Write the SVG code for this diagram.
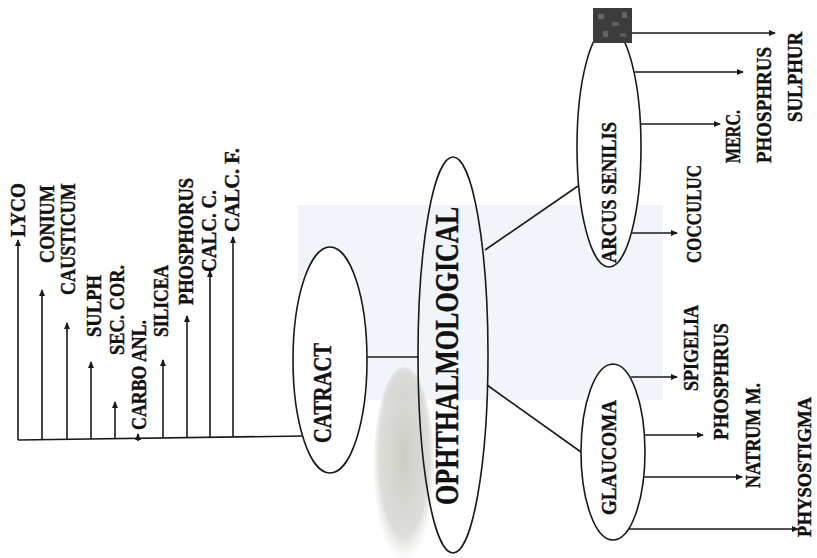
<svg xmlns="http://www.w3.org/2000/svg" width="817" height="558" viewBox="0 0 817 558">
  <style>
    .ln { stroke: #1a1a1a; stroke-width: 1.6; fill: none; }
    .arr { marker-end: url(#ah); }
    .node { fill: #ffffff; stroke: #1a1a1a; stroke-width: 1.6; }
    .lbl { font-family: "Liberation Serif", "Times New Roman", serif; font-weight: bold; font-size: 20px; fill: #111; stroke: #111; stroke-width: 0.4; }
  </style>
  <defs>
    <marker id="ah" markerWidth="7" markerHeight="6" refX="6" refY="3" orient="auto" markerUnits="userSpaceOnUse">
      <path d="M0,0 L7,3 L0,6 z" fill="#1a1a1a"/>
    </marker>
    <radialGradient id="blob" cx="0.5" cy="0.45" r="0.55">
      <stop offset="0" stop-color="#c4c3bc" stop-opacity="0.85"/>
      <stop offset="0.75" stop-color="#cfcec8" stop-opacity="0.7"/>
      <stop offset="1" stop-color="#e2e2dd" stop-opacity="0"/>
    </radialGradient>
  </defs>
  <rect width="817" height="558" fill="#ffffff"/>
  <g id="background">
    <rect x="298" y="205" width="365" height="195" fill="#f1f5f9"/>
    <ellipse cx="404" cy="465" rx="30" ry="98" fill="url(#blob)"/>
  </g>

  <g id="connectors">
    <!-- left tree -->
    <line class="ln" x1="18" y1="440" x2="303" y2="436"/>
    <line class="ln arr" x1="18" y1="440" x2="18" y2="240"/>
    <line class="ln arr" x1="42" y1="440" x2="42" y2="290"/>
    <line class="ln arr" x1="67" y1="440" x2="67" y2="323"/>
    <line class="ln arr" x1="91" y1="439" x2="91" y2="362"/>
    <line class="ln arr" x1="115" y1="439" x2="115" y2="402"/>
    <line class="ln arr" x1="138" y1="441" x2="138" y2="434"/>
    <line class="ln arr" x1="163" y1="438" x2="163" y2="360"/>
    <line class="ln arr" x1="187" y1="438" x2="187" y2="316"/>
    <line class="ln arr" x1="210" y1="437" x2="210" y2="271"/>
    <line class="ln arr" x1="233" y1="437" x2="233" y2="237"/>
    <!-- centre -->
    <line class="ln" x1="367" y1="357" x2="419" y2="357"/>
    <line class="ln" x1="485" y1="250" x2="578" y2="186"/>
    <line class="ln" x1="487" y1="385" x2="581" y2="452"/>
    <!-- arcus senilis -->
    <line class="ln arr" x1="632" y1="33" x2="775" y2="33"/>
    <line class="ln arr" x1="635" y1="72" x2="743" y2="72"/>
    <line class="ln arr" x1="641" y1="124" x2="720" y2="124"/>
    <line class="ln arr" x1="631" y1="233" x2="677" y2="233"/>
    <!-- glaucoma -->
    <line class="ln arr" x1="631" y1="377" x2="677" y2="377"/>
    <line class="ln arr" x1="644" y1="435" x2="703" y2="435"/>
    <line class="ln arr" x1="644" y1="477" x2="742" y2="477"/>
    <line class="ln arr" x1="628" y1="529" x2="798" y2="529"/>
  </g>

  <g id="left-labels">
    <text class="lbl" transform="translate(25,237) rotate(-90)" textLength="54" lengthAdjust="spacingAndGlyphs">LYCO</text>
    <text class="lbl" transform="translate(54,263) rotate(-90)" textLength="78" lengthAdjust="spacingAndGlyphs">CONIUM</text>
    <text class="lbl" transform="translate(75,295) rotate(-90)" textLength="112" lengthAdjust="spacingAndGlyphs">CAUSTICUM</text>
    <text class="lbl" transform="translate(101,337) rotate(-90)" textLength="62" lengthAdjust="spacingAndGlyphs">SULPH</text>
    <text class="lbl" transform="translate(124,355) rotate(-90)" textLength="90" lengthAdjust="spacingAndGlyphs">SEC. COR.</text>
    <text class="lbl" transform="translate(146,430) rotate(-90)" textLength="110" lengthAdjust="spacingAndGlyphs">CARBO ANL.</text>
    <text class="lbl" transform="translate(168,337) rotate(-90)" textLength="72" lengthAdjust="spacingAndGlyphs">SILICEA</text>
    <text class="lbl" transform="translate(193,305) rotate(-90)" textLength="127" lengthAdjust="spacingAndGlyphs">PHOSPHORUS</text>
    <text class="lbl" transform="translate(216,272) rotate(-90)" textLength="82" lengthAdjust="spacingAndGlyphs">CALC. C.</text>
    <text class="lbl" transform="translate(239,232) rotate(-90)" textLength="84" lengthAdjust="spacingAndGlyphs">CALC. F.</text>
  </g>

  <g id="catract">
    <ellipse class="node" cx="330" cy="360" rx="37" ry="113"/>
    <text class="lbl" style="font-size:25px" transform="translate(331,443) rotate(-90)" textLength="100" lengthAdjust="spacingAndGlyphs">CATRACT</text>
  </g>

  <g id="ophthalmological">
    <ellipse cx="453" cy="355" rx="35" ry="198" fill="none" stroke="#1a1a1a" stroke-width="1.6"/>
    <text class="lbl" style="font-size:33px" transform="translate(458,505) rotate(-90)" textLength="298" lengthAdjust="spacingAndGlyphs">OPHTHALMOLOGICAL</text>
  </g>

  <g id="arcus-senilis">
    <ellipse class="node" cx="609" cy="147" rx="32" ry="120"/>
    <rect x="593" y="8" width="39" height="35" fill="#3c3c3c"/>
    <rect x="598" y="14" width="6" height="5" fill="#666"/>
    <rect x="612" y="22" width="7" height="4" fill="#5e5e5e"/>
    <rect x="603" y="31" width="5" height="6" fill="#626262"/>
    <rect x="622" y="12" width="5" height="6" fill="#646464"/>
    <rect x="620" y="33" width="6" height="4" fill="#5a5a5a"/>
    <text class="lbl" transform="translate(616,263) rotate(-90)" textLength="141" lengthAdjust="spacingAndGlyphs">ARCUS SENILIS</text>
  </g>

  <g id="arcus-labels">
    <text class="lbl" transform="translate(802,122) rotate(-90)" textLength="90" lengthAdjust="spacingAndGlyphs">SULPHUR</text>
    <text class="lbl" transform="translate(771,163) rotate(-90)" textLength="116" lengthAdjust="spacingAndGlyphs">PHOSPHRUS</text>
    <text class="lbl" transform="translate(740,163) rotate(-90)" textLength="53" lengthAdjust="spacingAndGlyphs">MERC.</text>
    <text class="lbl" transform="translate(701,263) rotate(-90)" textLength="98" lengthAdjust="spacingAndGlyphs">COCCULUC</text>
  </g>

  <g id="glaucoma">
    <ellipse class="node" cx="613" cy="452" rx="32" ry="88"/>
    <text class="lbl" transform="translate(616,515) rotate(-90)" textLength="115" lengthAdjust="spacingAndGlyphs">GLAUCOMA</text>
  </g>

  <g id="glaucoma-labels">
    <text class="lbl" transform="translate(698,391) rotate(-90)" textLength="86" lengthAdjust="spacingAndGlyphs">SPIGELIA</text>
    <text class="lbl" transform="translate(728,440) rotate(-90)" textLength="117" lengthAdjust="spacingAndGlyphs">PHOSPHRUS</text>
    <text class="lbl" transform="translate(760,488) rotate(-90)" textLength="105" lengthAdjust="spacingAndGlyphs">NATRUM M.</text>
    <text class="lbl" style="font-size:18px" transform="translate(811,537) rotate(-90)" textLength="140" lengthAdjust="spacingAndGlyphs">PHYSOSTIGMA</text>
  </g>
</svg>
